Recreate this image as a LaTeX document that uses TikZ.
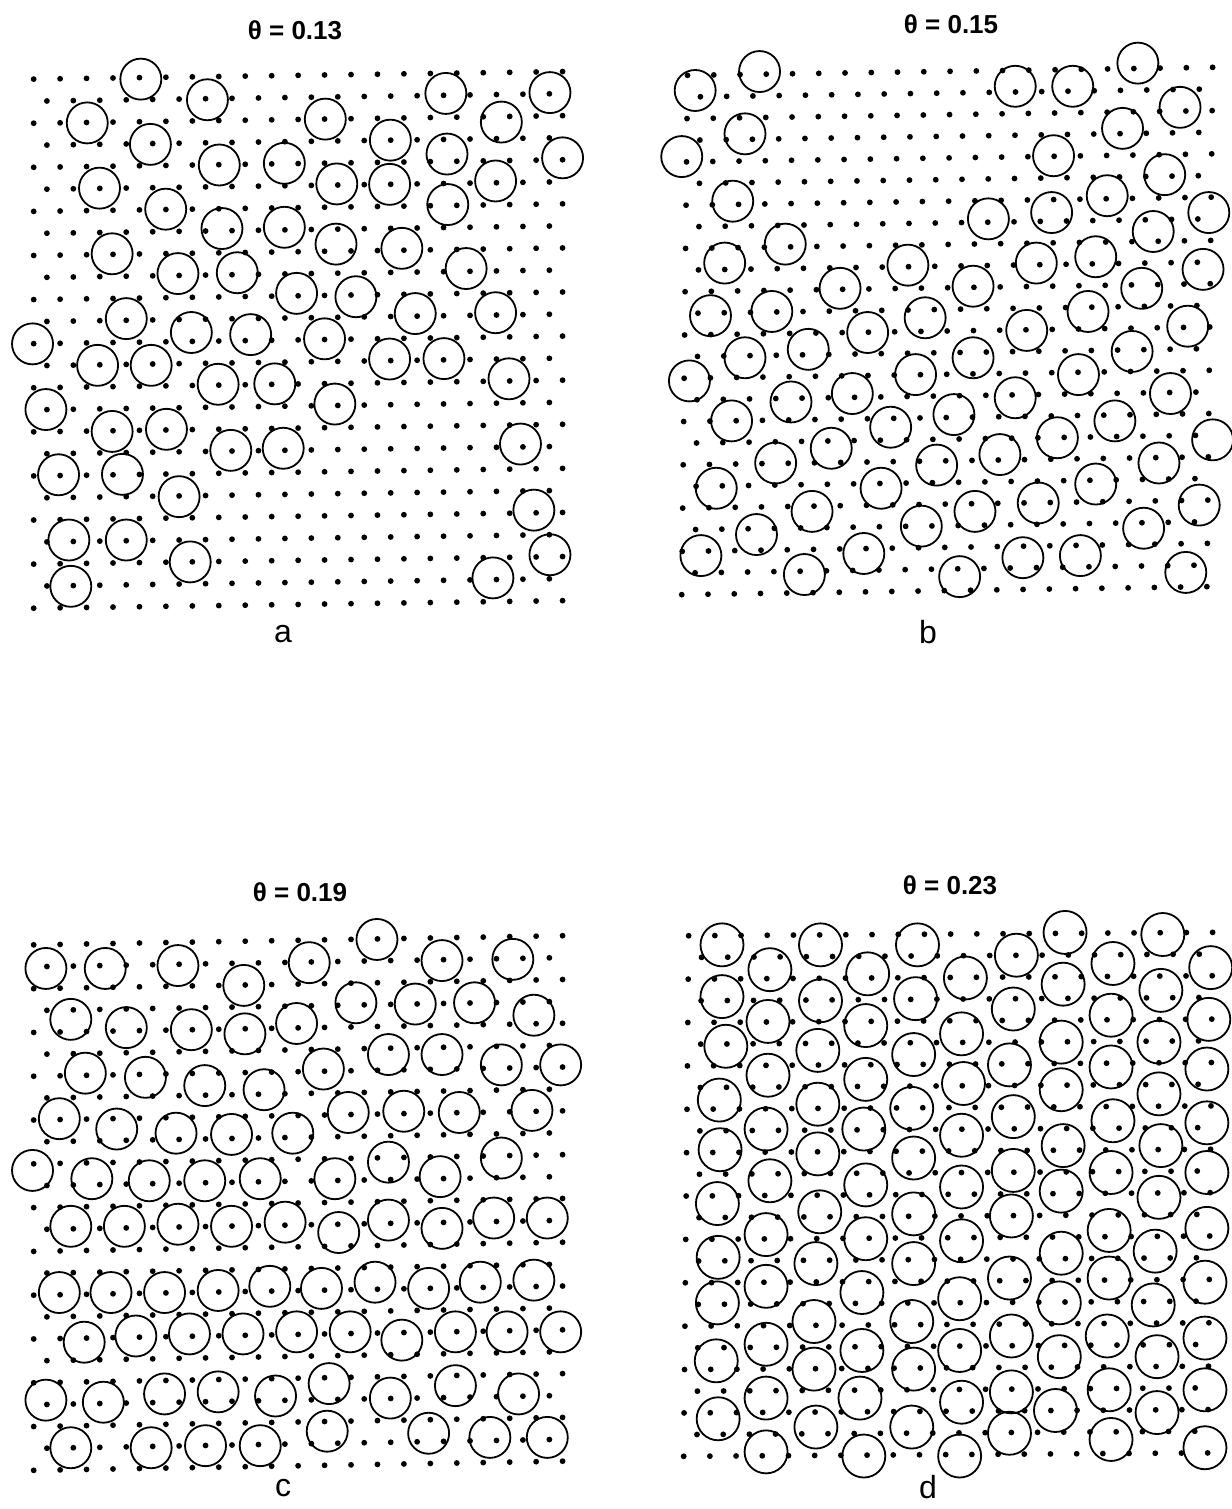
\documentclass[tikz,border=0pt]{standalone}
\usepackage{fontspec}
\setmainfont{Liberation Sans}

\tikzset{
  dot/.style={circle,fill=black,inner sep=0pt,minimum size=2.9pt},
  mol/.style={circle,draw=black,line width=0.9pt,inner sep=0pt,minimum size=20.5pt},
  bigmol/.style={mol,minimum size=21.5pt},
  title/.style={font=\fontsize{13}{15}\selectfont\bfseries},
  panel/.style={font=\fontsize{16}{18}\selectfont}
}

% first dot (#1,#2), column step #3, row step #4, slope along a row #5, drift per row #6
\newcommand\drawlattice[6]{%
  \foreach \r in {0,...,24}{
    \pgfmathtruncatemacro\odd{mod(\r,2)}
    \pgfmathtruncatemacro\nc{20-\odd}
    \foreach \c in {0,...,\nc}{
      \pgfmathsetmacro\xx{#1+#3*\c+0.5*#3*\odd+#6*\r}
      \pgfmathsetmacro\yy{#2+#4*\r+#5*(\xx-#1)}
      \node[dot] at (\xx,\yy) {};
    }
  }
}

\begin{document}
\begin{tikzpicture}[x=0.5pt,y=-0.5pt]
  \useasboundingbox (0,0) rectangle (1231,1509);

  % panel a
  \node[title] (ta) at (295,30) {θ = 0.13};
  \node[panel] (la) at (283,634) {a};
  \begin{scope}[shift={(0,0)},xscale=0.3827,yscale=0.4209]
    \drawlattice{88}{188}{69.1}{52.375}{-0.013}{0}
    \foreach \p in {(368,188),(542,237),(1165,222),(1437,220),
      (228,292),(850,283),(1310,290),
      (393,343),(1020,333),(1168,366),(1470,375),
      (573,392),(743,388),
      (880,437),(1018,438),(1295,430),
      (260,447),(1170,486),
      (433,497),(580,543),(743,540),
      (878,580),(1050,590),(293,603),(1218,638),
      (465,650),(620,648),
      (775,697),(930,705),(1085,745),(1295,743),
      (330,757),(500,790),(655,795),(848,805),
      (85,817),(255,868),(395,868),(1018,853),(1160,852),(1330,900),
      (570,913),(718,912),(875,960),
      (120,973),(293,1025),(435,1020),(1360,1055),
      (603,1070),(740,1065),
      (153,1128),(320,1127),(468,1180),(1395,1212),
      (180,1283),(330,1283),(497,1335),(1437,1318),
      (1288,1373),(185,1393)}
      \node[mol] at \p {};
  \end{scope}

  % panel b
  \node[title] (tb) at (951,24) {θ = 0.15};
  \node[panel] (lb) at (928,632) {b};
  \begin{scope}[shift={(630,0)},xscale=0.3833,yscale=0.4209]
    \drawlattice{150}{179}{68.5}{51.4}{-0.0139}{-0.625}
    \foreach \p in {(338,170),(170,215),
      (1005,205),(1155,205),(1325,150),
      (1435,255),(1285,305),(1105,370),(1395,415),
      (300,318),(135,372),(268,478),
      (1245,465),(1100,505),(1510,505),
      (935,520),(1365,550),
      (405,580),(1215,610),(1060,625),(1495,640),
      (247,625),(725,630),
      (548,685),(895,680),(1335,685),
      (370,740),(210,750),(770,755),(1195,740),(1035,785),(1455,775),
      (620,790),(465,830),(300,850),
      (895,850),(1310,835),
      (745,890),(1170,890),(155,905),(580,935),(1005,945),
      (420,955),(1410,935),(265,1000),(680,1015),(845,985),
      (1265,1000),(1115,1040),(525,1065),(1520,1045),
      (380,1100),(965,1080),(800,1105),(1380,1100),
      (225,1160),(655,1160),(1215,1150),(1065,1195),
      (475,1215),(900,1215),(1485,1200),
      (760,1250),(1340,1255),(330,1270),
      (185,1320),(610,1315),(1025,1325),(1175,1320),
      (455,1365),(860,1370),(1450,1360)}
      \node[mol] at \p {};
  \end{scope}

  % panel c
  \node[title] (tc) at (300,892) {θ = 0.19};
  \node[panel] (lc) at (283,1488) {c};
  \begin{scope}[shift={(0,860)},xscale=0.3827,yscale=0.4139]
    \drawlattice{88}{205}{69.1}{52.9}{-0.016}{0}
    \foreach \p in {(120,262),(275,262),(465,255),(637,303),(808,248),(985,192),(1155,243),(1340,240),
      (185,385),(330,405),(500,410),(640,420),(775,395),(930,345),(1085,348),(1240,345),(1395,375),
      (223,515),(380,525),(535,545),(690,555),(845,505),(1015,470),(1155,470),(1310,495),(1465,495),
      (155,625),(305,650),(460,660),(605,663),(765,660),(910,610),(1055,607),(1200,610),(1390,605),
      (85,750),(240,770),(390,775),(535,775),(680,770),(875,770),(1015,730),(1150,765),(1310,720),
      (185,885),(325,885),(465,880),(605,885),(745,875),(885,900),(1015,870),(1155,890),(1290,865),(1430,865),
      (155,1045),(290,1045),(430,1045),(570,1040),(705,1030),(840,1035),(980,1020),(1120,1035),(1255,1020),(1395,1015),
      (220,1165),(355,1150),(495,1145),(635,1145),(775,1140),(915,1140),(1050,1160),(1190,1140),(1325,1140),(1465,1140),
      (120,1305),(270,1310),(430,1290),(570,1285),(720,1295),(860,1265),(1020,1300),(1190,1270),(1355,1290),
      (185,1420),(395,1420),(537,1415),(680,1415),(855,1380),(1120,1385),(1280,1395),(1430,1395)}
      \node[mol] at \p {};
  \end{scope}

  % panel d
  \node[title] (td) at (950,885) {θ = 0.23};
  \node[panel] (ld) at (928,1487) {d};
  \begin{scope}[shift={(630,860)},xscale=0.3833,yscale=0.4139]
    \drawlattice{153}{183}{68.35}{52.4}{-0.006}{-0.54}
    \foreach \p in {(240,205),(240,330),(250,450),(233,580),(235,700),(228,830),(230,960),(228,1070),(225,1210),(230,1350),
      (365,265),(360,390),(360,520),(355,650),(365,775),(355,905),(355,1030),(355,1170),(355,1300),(355,1430),
      (497,205),(497,340),(490,460),(490,590),(490,710),(495,850),(485,975),(480,1115),(480,1230),(485,1370),
      (620,275),(615,400),(615,530),(610,650),(615,785),(615,915),(605,1045),(605,1185),(600,1300),(610,1440),
      (750,205),(745,335),(740,470),(735,600),(740,720),(740,855),(740,975),(735,1115),(740,1230),(735,1370),
      (875,285),(865,420),(870,540),(865,665),(865,790),(865,920),(860,1060),(860,1185),(865,1310),(860,1440),
      (1008,230),(1000,360),(990,495),(1000,620),(1000,750),(995,860),(990,1010),(995,1150),(995,1285),(990,1385),
      (1135,175),(1130,300),(1125,440),(1125,555),(1130,690),(1125,800),(1125,950),(1120,1070),(1120,1200),(1110,1330),
      (1260,250),(1255,375),(1255,500),(1260,630),(1255,755),(1250,895),(1250,1010),(1245,1150),(1250,1280),(1255,1400),
      (1390,180),(1385,315),(1380,440),(1380,565),(1385,690),(1380,815),(1370,945),(1365,1075),(1375,1200),(1375,1335),
      (1515,260),(1510,385),(1505,505),(1505,635),(1505,755),(1505,890),(1500,1020),(1500,1155),(1500,1280),(1500,1420)}
      \node[bigmol] at \p {};
  \end{scope}
\end{tikzpicture}
\end{document}
